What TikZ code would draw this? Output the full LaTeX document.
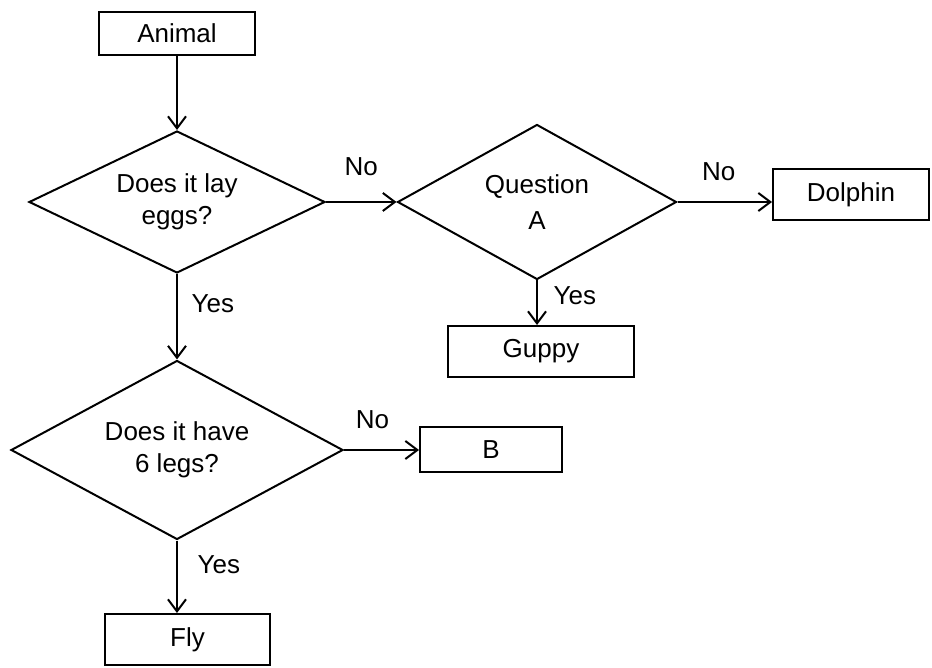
\documentclass[tikz,border=0pt]{standalone}
\usepackage{fontspec}
\setmainfont{Liberation Sans}
\usetikzlibrary{shapes.geometric,arrows.meta}

\begin{document}
\begin{tikzpicture}[auto, node distance=2cm, >={Straight Barb[length=6pt,width=9pt]}, line width=1pt, font=\fontsize{13}{16}\selectfont]
        % Styles
        \tikzstyle{box} = [draw, rectangle, inner sep=0pt]
        \tikzstyle{question} = [draw, diamond, inner sep=0pt, align=center]

        \useasboundingbox (-88.5pt,16.75pt) rectangle (377.5pt,-317.25pt);

        % --- Left column ---
        \node [box, minimum width=78pt, minimum height=21.5pt] (animal) {Animal};

        % First question
        \node [question, below of=animal, node distance=84.25pt, minimum width=148pt, minimum height=71pt, shape aspect=2] (eggs) {Does it lay\\eggs?};

        % Second question
        \node [question, below of=eggs, node distance=124pt, minimum width=166pt, minimum height=89.5pt, shape aspect=1.85] (legs) {Does it have\\6 legs?};

        % Answer Fly
        \node [box, below of=legs, node distance=94.75pt, xshift=5.25pt, minimum width=82.5pt, minimum height=25.5pt] (fly) {Fly};

        % Answer B
        \node [box, right of=legs, node distance=157pt, minimum width=71pt, minimum height=22.5pt] (b) {B};

        % --- Right branch ---
        \node [question, right of=eggs, node distance=180pt, minimum width=139.5pt, minimum height=77.5pt, shape aspect=1.8] (question_a) {Question\\[2pt]A};

        % Answer Dolphin
        \node [box, right of=question_a, node distance=157pt, yshift=3.5pt, minimum width=78pt, minimum height=25.5pt] (dolphin) {Dolphin};

        % Answer Guppy
        \node [box, below of=question_a, node distance=74.75pt, xshift=2pt, minimum width=93pt, minimum height=25.5pt] (guppy) {Guppy};

        % --- Connections ---
        \draw [->] (animal) -- (eggs);

        % Eggs: No -> Question A, Yes -> legs
        \draw [->] (eggs) -- node[above=9.5pt] {No} (question_a);
        \draw [->] (eggs) -- node[pos=0.35, right=3.5pt] {Yes} (legs);

        % Question A: No -> Dolphin, Yes -> Guppy
        \draw [->] (question_a.east) -- node[above=7pt, xshift=-3pt] {No} (question_a.east -| dolphin.west);
        \draw [->] (question_a.south) -- node[pos=0.35, right=4.5pt] {Yes} (question_a.south |- guppy.north);

        % Legs: No -> B, Yes -> Fly
        \draw [->] (legs) -- node[above=7pt, xshift=-4.5pt] {No} (b);
        \draw [->] (legs.south) -- node[pos=0.33, right=6.5pt] {Yes} (legs.south |- fly.north);

    \end{tikzpicture}
\end{document}
